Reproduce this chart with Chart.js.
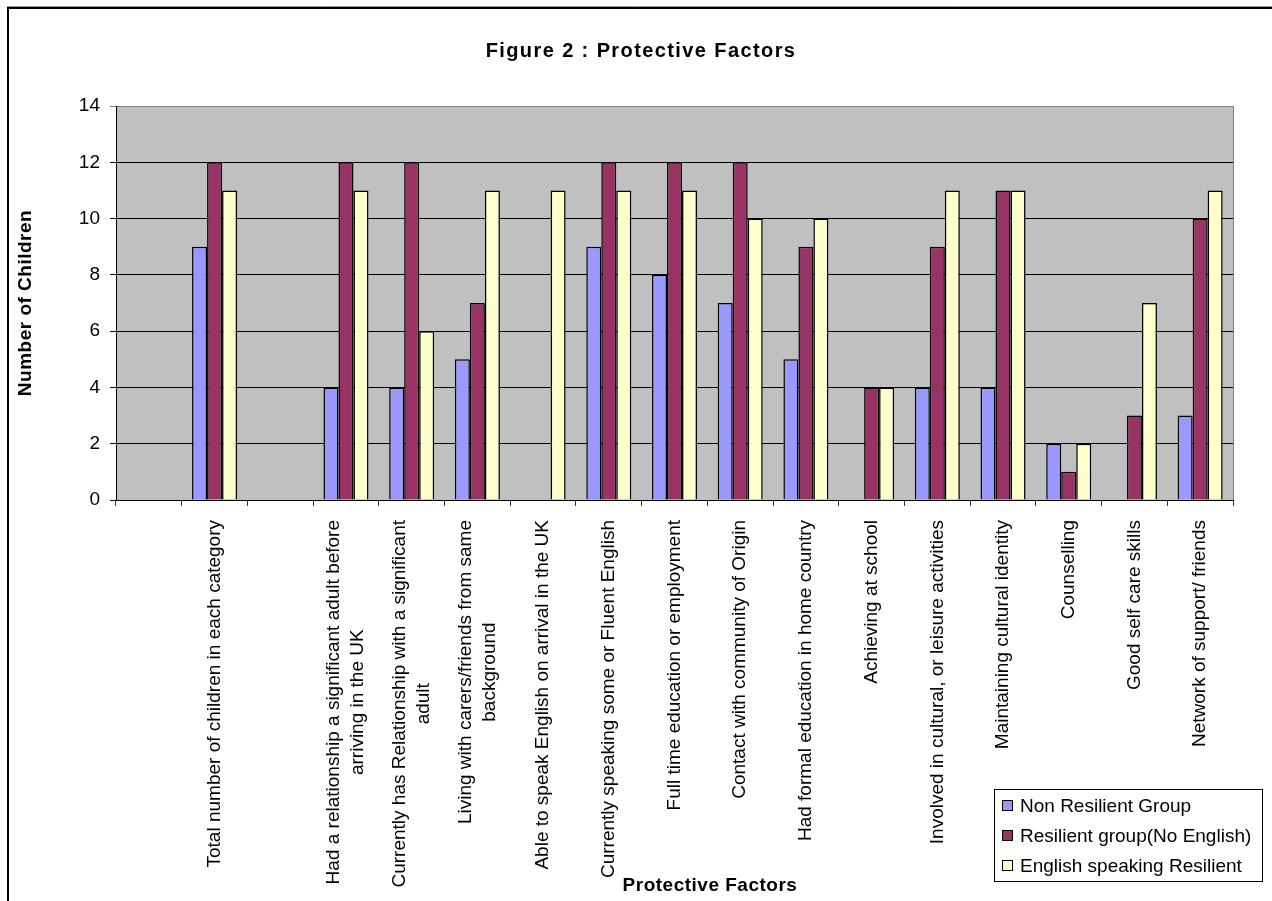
<!DOCTYPE html>
<html>
<head>
<meta charset="utf-8">
<script src="https://cdn.jsdelivr.net/npm/chart.js@4"></script>
<style>
  body { margin: 0; background: #fff; }
</style>
</head>
<body>
<canvas id="chart" width="1272" height="901"></canvas>
<script>
const ctx = document.getElementById("chart");

// categories (blank ones are empty slots in the original sheet)
const categories = [
  "",
  "Total number of children in each category",
  "",
  ["Had a relationship a significant adult before", "arriving in the UK"],
  ["Currently has Relationship with a significant", "adult"],
  ["Living with carers/friends from same", "background"],
  "Able to speak English on arrival in the UK",
  "Currently speaking some or Fluent English",
  "Full time education or employment",
  "Contact with community of Origin",
  "Had formal education in home country",
  "Achieving at school",
  "Involved in cultural, or leisure activities",
  "Maintaining cultural identity",
  "Counselling",
  "Good self care skills",
  "Network of support/ friends"
];

const seriesNames = ["Non Resilient Group", "Resilient group(No English)", "English speaking Resilient"];
const nonResilient       = [null, 9, null, 4, 4, 5, 0, 9, 8, 7, 5, 0, 4, 4, 2, 0, 3];
const resilientNoEnglish = [null, 12, null, 12, 12, 7, 0, 12, 12, 12, 9, 4, 9, 11, 1, 3, 10];
const englishSpeaking    = [null, 11, null, 11, 6, 11, 11, 11, 11, 10, 10, 4, 11, 11, 2, 7, 11];

const yMin = 0, yMax = 14, yStep = 2;

const chartTitle = "Figure 2 : Protective Factors";
const xTitle = "Protective Factors";
const yTitle = "Number of Children";

const FONT = 'Arial, "Liberation Sans", sans-serif';
Chart.defaults.font.family = FONT;
Chart.defaults.font.size = 19;
Chart.defaults.color = "#000";

// background, frame, titles, rotated labels and legend
const pagePlugin = {
  id: "page",
  beforeDraw(chart) {
    const c = chart.ctx, a = chart.chartArea;
    c.save();
    c.strokeStyle = "#999";
    c.lineWidth = 1;
    c.beginPath(); c.moveTo(7, 6.5); c.lineTo(1272, 6.5); c.stroke();
    c.strokeStyle = "#000";
    c.lineWidth = 2;
    c.beginPath(); c.moveTo(8, 901); c.lineTo(8, 8); c.lineTo(1272, 8); c.stroke();

    c.fillStyle = "#c0c0c0";
    c.fillRect(a.left, a.top, a.right - a.left, a.bottom - a.top);
    c.strokeStyle = "#808080";
    c.lineWidth = 1;
    c.beginPath(); c.moveTo(a.right + 0.5, a.top); c.lineTo(a.right + 0.5, a.bottom); c.stroke();
    c.restore();
  },
  afterDraw(chart) {
    const c = chart.ctx, a = chart.chartArea;
    const xs = chart.scales.x;
    c.save();
    c.fillStyle = "#000";

    // chart title
    c.font = "bold 20px " + FONT;
    c.letterSpacing = "1.4px";
    c.textAlign = "center";
    c.textBaseline = "alphabetic";
    c.fillText(chartTitle, 641, 57);
    c.font = "bold 19px " + FONT;
    c.letterSpacing = "0.5px";
    c.fillText(xTitle, 710, 891);

    // y title
    c.save();
    c.translate(31, (a.top + a.bottom) / 2);
    c.rotate(-Math.PI / 2);
    c.fillText(yTitle, 0, 0);
    c.restore();
    c.letterSpacing = "0px";

    // category labels, lines centred on each other like the original
    c.font = "19px " + FONT;
    c.textBaseline = "middle";
    categories.forEach((lab, i) => {
      const lines = Array.isArray(lab) ? lab : [lab];
      if (!lines[0]) return;
      const w = Math.max(...lines.map(l => c.measureText(l).width));
      c.save();
      c.translate(xs.getPixelForValue(i), a.bottom + 20);
      c.rotate(-Math.PI / 2);
      lines.forEach((l, j) => c.fillText(l, -w / 2, (j - (lines.length - 1) / 2) * 24));
      c.restore();
    });

    // legend
    c.strokeStyle = "#000";
    c.lineWidth = 1;
    c.strokeRect(994.5, 789.5, 268, 92);
    c.textAlign = "left";
    chart.data.datasets.forEach((ds, i) => {
      const y = 806 + i * 30;
      c.fillStyle = ds.backgroundColor;
      c.fillRect(1002.5, y - 5.5, 10, 10);
      c.strokeRect(1002.5, y - 5.5, 10, 10);
      c.fillStyle = "#000";
      c.fillText(ds.label, 1020, y + 1);
    });
    c.restore();
  }
};

new Chart(ctx, {
  type: "bar",
  data: {
    labels: categories,
    datasets: [
      { label: seriesNames[0], data: nonResilient, backgroundColor: "#9999ff", borderColor: "#000", borderWidth: 1.5 },
      { label: seriesNames[1], data: resilientNoEnglish, backgroundColor: "#993366", borderColor: "#000", borderWidth: 1.5 },
      { label: seriesNames[2], data: englishSpeaking, backgroundColor: "#ffffcc", borderColor: "#000", borderWidth: 1.5 },
    ],
  },
  options: {
    responsive: false,
    animation: false,
    devicePixelRatio: 1,
    layout: { padding: { top: 106, right: 39, bottom: 0, left: 0 } },
    datasets: { bar: { categoryPercentage: 0.685, barPercentage: 1 } },
    plugins: {
      legend: { display: false },
      title: { display: false },
      tooltip: { enabled: false },
    },
    scales: {
      x: {
        ticks: { display: false },
        grid: { drawOnChartArea: false, drawTicks: true, tickLength: 6, color: "#333" },
        border: { color: "#000" },
        afterFit: (s) => { s.height = 401; },
      },
      y: {
        min: yMin,
        max: yMax,
        ticks: { stepSize: yStep, padding: 10, color: "#000" },
        grid: {
          tickLength: 6,
          color: (c) => (c.tick && c.tick.value === yMax ? "#808080" : "#000"),
        },
        border: { color: "#000" },
        afterFit: (s) => { s.width = 116; },
      },
    },
  },
  plugins: [pagePlugin],
});
</script>
</body>
</html>
